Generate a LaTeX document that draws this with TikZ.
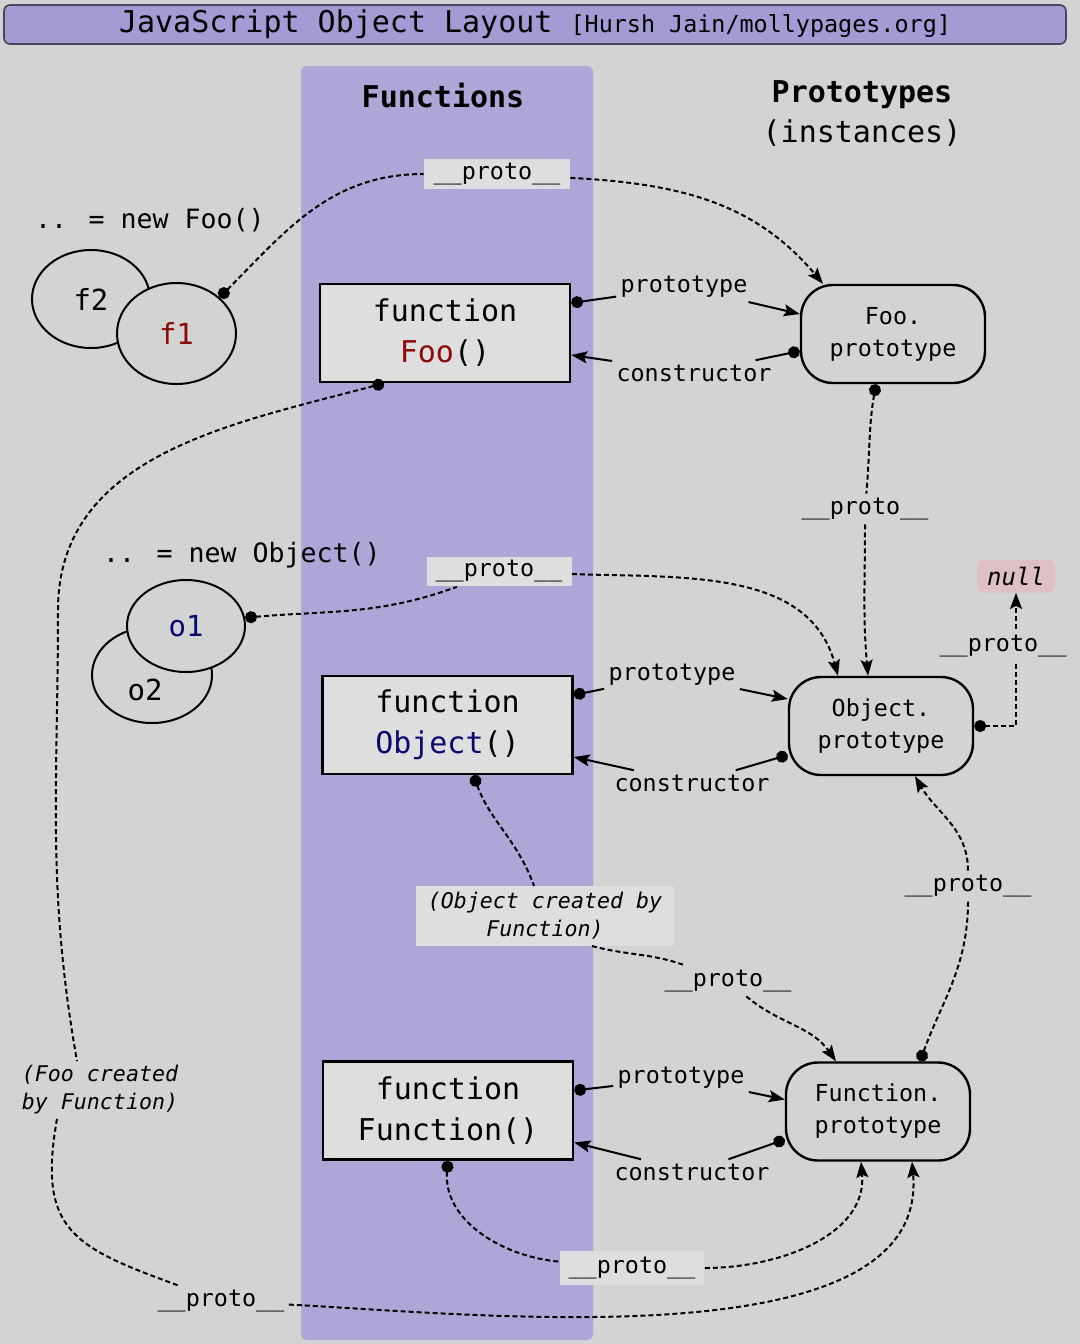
\documentclass[tikz,border=0pt]{standalone}
\usepackage{fontspec}
\setmainfont{DejaVu Sans Mono}
\usetikzlibrary{arrows.meta,shapes.geometric}
\definecolor{bgcol}{RGB}{211,211,211}
\definecolor{colcol}{RGB}{173,166,214}
\definecolor{titlecol}{RGB}{163,155,212}
\definecolor{boxcol}{RGB}{222,222,222}
\definecolor{nullcol}{RGB}{222,192,196}
\definecolor{foored}{RGB}{140,10,10}
\definecolor{objblue}{RGB}{10,10,110}
\begin{document}
\begin{tikzpicture}[x=0.5pt,y=0.5pt]
  \tikzstyle{titlebar}=[rectangle,rounded corners=3pt,draw={rgb,255:red,70;green,70;blue,90},line width=0.8pt,fill=titlecol,minimum width=531pt,minimum height=19.5pt,inner sep=0pt,font=\fontsize{15}{18}\selectfont]
  \tikzstyle{fnbox}=[rectangle,draw=black,line width=1.2pt,fill=boxcol,minimum width=125pt,minimum height=49pt,inner sep=0pt,align=center,font=\fontsize{15}{20.5}\selectfont]
  \tikzstyle{protobox}=[rectangle,rounded corners=16pt,draw=black,line width=1.2pt,fill=bgcol,minimum width=92pt,minimum height=49pt,inner sep=0pt,align=center,font=\fontsize{11.7}{16}\selectfont]
  \tikzstyle{inst}=[ellipse,draw=black,line width=1pt,fill=bgcol,inner sep=0pt,font=\fontsize{14.5}{17}\selectfont]
  \tikzstyle{head}=[inner sep=0pt,align=center,font=\fontsize{15}{20}\selectfont]
  \tikzstyle{newtxt}=[inner sep=0pt,font=\fontsize{13.3}{16}\selectfont]
  \tikzstyle{lbl}=[inner sep=2pt,font=\fontsize{11.7}{14}\selectfont]
  \tikzstyle{lblbox}=[lbl,fill=boxcol]
  \tikzstyle{note}=[inner sep=2pt,align=center,font=\fontsize{10.8}{14}\selectfont\itshape]
  \tikzstyle{nullbox}=[rectangle,rounded corners=3pt,fill=nullcol,minimum width=39pt,minimum height=16.5pt,inner sep=0pt,font=\fontsize{12}{14}\selectfont\itshape]
  \tikzstyle{link}=[draw,line width=1pt]
  \tikzstyle{dashlink}=[link,dash pattern=on 2.5pt off 1.5pt]
  \tikzstyle{fromdot}=[{Circle[length=6pt]}-]
  \tikzstyle{toarrow}=[-{Stealth[length=8pt,width=6pt,inset=1.5pt]}]
  \tikzstyle{dotarrow}=[{Circle[length=6pt]}-{Stealth[length=8pt,width=6pt,inset=1.5pt]}]
  \useasboundingbox (0,0) rectangle (1080,-1344);
  \fill[bgcol] (0,0) rectangle (1080,-1344);
  \node[titlebar] (title) at (535,-24.5) {JavaScript Object Layout {\fontsize{11.7}{14}\selectfont[Hursh Jain/mollypages.org]}};
  \node[rectangle,rounded corners=3pt,fill=colcol,minimum width=146pt,minimum height=637pt,inner sep=0pt] (col) at (447,-703) {};
  \node[head] (hFun) at (443,-96) {\bfseries Functions};
  \node[head] (hProto) at (862,-114) {\bfseries Prototypes\\(instances)};
  \node[newtxt] (newFoo) at (150,-220) {.. = new Foo()};
  \node[newtxt] (newObj) at (242,-555) {.. = new Object()};
  \node[inst,minimum width=59pt,minimum height=49pt] (f2) at (91,-299) {f2};
  \node[inst,minimum width=59.5pt,minimum height=50.5pt] (f1) at (176.5,-333.5) {\color{foored}f1};
  \node[inst,minimum width=60pt,minimum height=48pt] (o2) at (152,-675) {};
  \node[inst,draw=none,fill=none] (o2txt) at (145,-690) {o2};
  \node[inst,minimum width=59pt,minimum height=46pt] (o1) at (186,-626) {\color{objblue}o1};
  \node[fnbox] (fooFn) at (445,-333) {function\\{\color{foored}Foo}()};
  \node[fnbox] (objFn) at (447.5,-725) {function\\{\color{objblue}Object}()};
  \node[fnbox] (funFn) at (448,-1110.5) {function\\Function()};
  \node[protobox] (fooProto) at (893,-334) {Foo.\\prototype};
  \node[protobox] (objProto) at (881,-726) {Object.\\prototype};
  \node[protobox] (funProto) at (878,-1111.5) {Function.\\prototype};
  \node[nullbox] (nullN) at (1016,-576) {null};
  \node[lbl] (pFoo) at (684,-287) {prototype};
  \node[lbl] (cFoo) at (694,-373) {constructor};
  \node[lbl] (pObj) at (672,-675) {prototype};
  \node[lbl] (cObj) at (692,-783) {constructor};
  \node[lbl] (pFun) at (681,-1078) {prototype};
  \node[lbl] (cFun) at (692,-1172) {constructor};
  \node[lblbox,minimum width=73pt,minimum height=15pt] (topP) at (497,-174) {\_\_proto\_\_};
  \node[lblbox,minimum width=72.5pt,minimum height=14.5pt] (oP) at (499,-571.5) {\_\_proto\_\_};
  \node[lbl] (fooUp) at (865,-509) {\_\_proto\_\_};
  \node[note,fill=boxcol,inner xsep=6pt,inner ysep=3pt] (objNote) at (545,-916) {(Object created by\\Function)};
  \node[lbl] (objFp) at (728,-981) {\_\_proto\_\_};
  \node[lbl] (funUp) at (968,-886) {\_\_proto\_\_};
  \node[lblbox,inner xsep=4.5pt,inner ysep=3pt] (funFp) at (632,-1268) {\_\_proto\_\_};
  \node[note,align=left] (fooNote) at (100,-1090) {(Foo created\\by Function)};
  \node[lbl] (fooFp) at (221,-1301) {\_\_proto\_\_};
  \coordinate (fooBend) at (58,-610);
  \path[link,fromdot] ([yshift=15pt]fooFn.east) -- (pFoo);
  \path[link,toarrow] (pFoo) -- ([yshift=10pt]fooProto.west);
  \path[link,fromdot] ([yshift=-8.5pt]fooProto.west) -- (cFoo);
  \path[link,toarrow] (cFoo) -- ([yshift=-11pt]fooFn.east);
  \path[link,fromdot] ([yshift=15pt]objFn.east) -- (pObj);
  \path[link,toarrow] (pObj) -- ([yshift=13.5pt]objProto.west);
  \path[link,fromdot] ([yshift=-14.5pt]objProto.west) -- (cObj);
  \path[link,toarrow] (cObj) -- ([yshift=-16pt]objFn.east);
  \path[link,fromdot] ([yshift=10pt]funFn.east) -- (pFun);
  \path[link,toarrow] (pFun) -- ([yshift=6pt]funProto.west);
  \path[link,fromdot] ([yshift=-14pt]funProto.west) -- (cFun);
  \path[link,toarrow] (cFun) -- ([yshift=-16pt]funFn.east);
  \path[dashlink,fromdot] (f1.40) to[out=45,in=180] (topP);
  \path[dashlink,toarrow] (topP) to[out=-3,in=130] ([xshift=-35pt]fooProto.north);
  \path[dashlink,fromdot] ([xshift=-8.5pt]fooProto.south) to[out=-100,in=85] (fooUp);
  \path[dashlink,toarrow] (fooUp) to[out=-90,in=95] ([xshift=-6.5pt]objProto.north);
  \path[dashlink,fromdot] (o1.8) to[out=5,in=200] (oP);
  \path[dashlink,toarrow] (oP) to[out=-2,in=105] ([xshift=-21.5pt]objProto.north);
  \path[dashlink,dotarrow] (objProto.east) -| node[lbl,fill=bgcol,pos=0.8,xshift=-6.5pt] (objUp) {\_\_proto\_\_} (nullN.south);
  \path[dashlink,fromdot] ([xshift=13pt]objFn.south) to[out=-70,in=110] (objNote);
  \path[dashlink] ([xshift=23.5pt]objNote.south) to[out=-15,in=160] (objFp);
  \path[dashlink,toarrow] (objFp) to[out=-40,in=125] ([xshift=-21pt]funProto.north);
  \path[dashlink,fromdot] ([xshift=21pt]funProto.north) to[out=70,in=-90] (funUp);
  \path[dashlink,toarrow] (funUp) to[out=90,in=-60] ([xshift=17pt]objProto.south);
  \path[dashlink,fromdot] (funFn.south) to[out=-95,in=175] (funFp);
  \path[dashlink,toarrow] (funFp) to[out=0,in=-85] ([xshift=-8.5pt]funProto.south);
  \path[dashlink,fromdot] ([xshift=-30.5pt]fooFn.south) to[out=-165,in=90] (fooBend) to[out=-90,in=100] ([xshift=-11.5pt]fooNote.north);
  \path[dashlink] ([xshift=-21.5pt]fooNote.south) to[out=-100,in=160,looseness=1.4] (fooFp);
  \path[dashlink,toarrow] (fooFp) to[out=-3,in=-85,looseness=0.8] ([xshift=17pt]funProto.south);
\end{tikzpicture}
\end{document}
